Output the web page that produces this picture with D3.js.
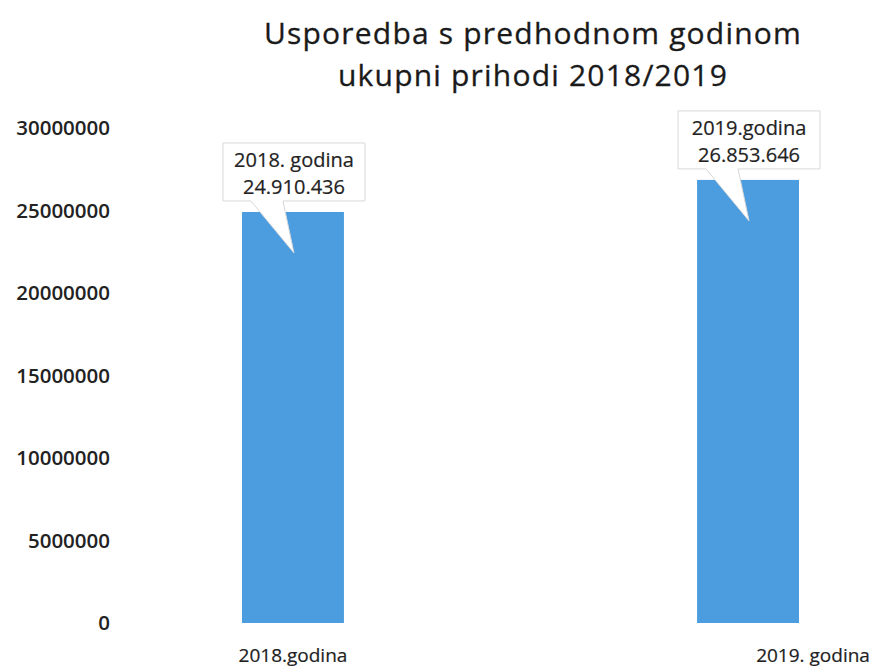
<!DOCTYPE html>
<html><head><meta charset="utf-8">
<script src="https://cdn.jsdelivr.net/npm/d3@7"></script>
<style>body{margin:0;background:#fff}svg{display:block}</style>
</head><body>
<svg id="c" width="874" height="668"></svg>
<script>
const categories = ["2018.godina", "2019. godina"];
const values = [24910436, 26853646];
const calloutYears = ["2018. godina", "2019.godina"];
const calloutValues = ["24.910.436", "26.853.646"];
const yTicks = [0, 5000000, 10000000, 15000000, 20000000, 25000000, 30000000];
const titleLines = ["Usporedba s predhodnom godinom", "ukupni prihodi 2018/2019"];

const svg = d3.select("#c");
const font = "'Open Sans', 'Noto Sans', sans-serif";
const y = d3.scaleLinear().domain([0, 30000000]).range([623, 128]);
const x = d3.scaleBand().domain(categories).range([242, 799]).paddingInner(0.776).paddingOuter(0);

// title
svg.append("g").selectAll("text").data(titleLines).join("text")
  .attr("x", 533).attr("y", (d, i) => 44 + i * 42)
  .attr("text-anchor", "middle").attr("font-family", font)
  .attr("font-size", 30).attr("letter-spacing", 1.2)
  .attr("fill", "#1a1a1a").attr("stroke", "#1a1a1a").attr("stroke-width", 0.3)
  .text(d => d);

// y axis (labels only)
const yAxis = d3.axisLeft(y).tickValues(yTicks).tickFormat(d3.format("d")).tickSize(0).tickPadding(0);
const ga = svg.append("g").attr("transform", "translate(110,0)").call(yAxis);
ga.select(".domain").remove();
ga.selectAll("text").attr("font-family", font).attr("font-size", 20.5).attr("font-weight", 600).attr("fill", "#222");

// bars
svg.append("g").selectAll("rect").data(values).join("rect")
  .attr("x", (d, i) => x(categories[i]))
  .attr("width", x.bandwidth())
  .attr("y", d => y(d))
  .attr("height", d => y(0) - y(d))
  .attr("fill", "#4c9de0");

// x labels
const xLabelOffsets = [0, 65];
svg.append("g").selectAll("text").data(categories).join("text")
  .attr("x", (d, i) => x(d) + x.bandwidth() / 2 + xLabelOffsets[i])
  .attr("y", 662).attr("text-anchor", "middle")
  .attr("font-family", font).attr("font-size", 19).attr("fill", "#222")
  .attr("stroke", "#222").attr("stroke-width", 0.2).text(d => d);

// callouts
const cw = 142, ch = 58;
const cg = svg.append("g").selectAll("g").data(values).join("g")
  .attr("transform", (d, i) => {
    const cx = x(categories[i]) + x.bandwidth() / 2;
    return `translate(${cx - 70},${y(d) - 69})`;
  });
cg.append("path")
  .attr("d", `M0,0H${cw}V${ch}H60L71,${ch + 52}L28,${ch}H0Z`)
  .attr("fill", "#fff").attr("stroke", "#d8d8d8").attr("stroke-width", 1);
cg.append("text").attr("x", cw / 2).attr("y", 24).attr("text-anchor", "middle")
  .attr("font-family", font).attr("font-size", 20).attr("fill", "#222")
  .attr("stroke", "#222").attr("stroke-width", 0.2)
  .text((d, i) => calloutYears[i]);
cg.append("text").attr("x", cw / 2).attr("y", 51).attr("text-anchor", "middle")
  .attr("font-family", font).attr("font-size", 20).attr("fill", "#222")
  .attr("stroke", "#222").attr("stroke-width", 0.2)
  .text((d, i) => calloutValues[i]);
</script>
</body></html>
